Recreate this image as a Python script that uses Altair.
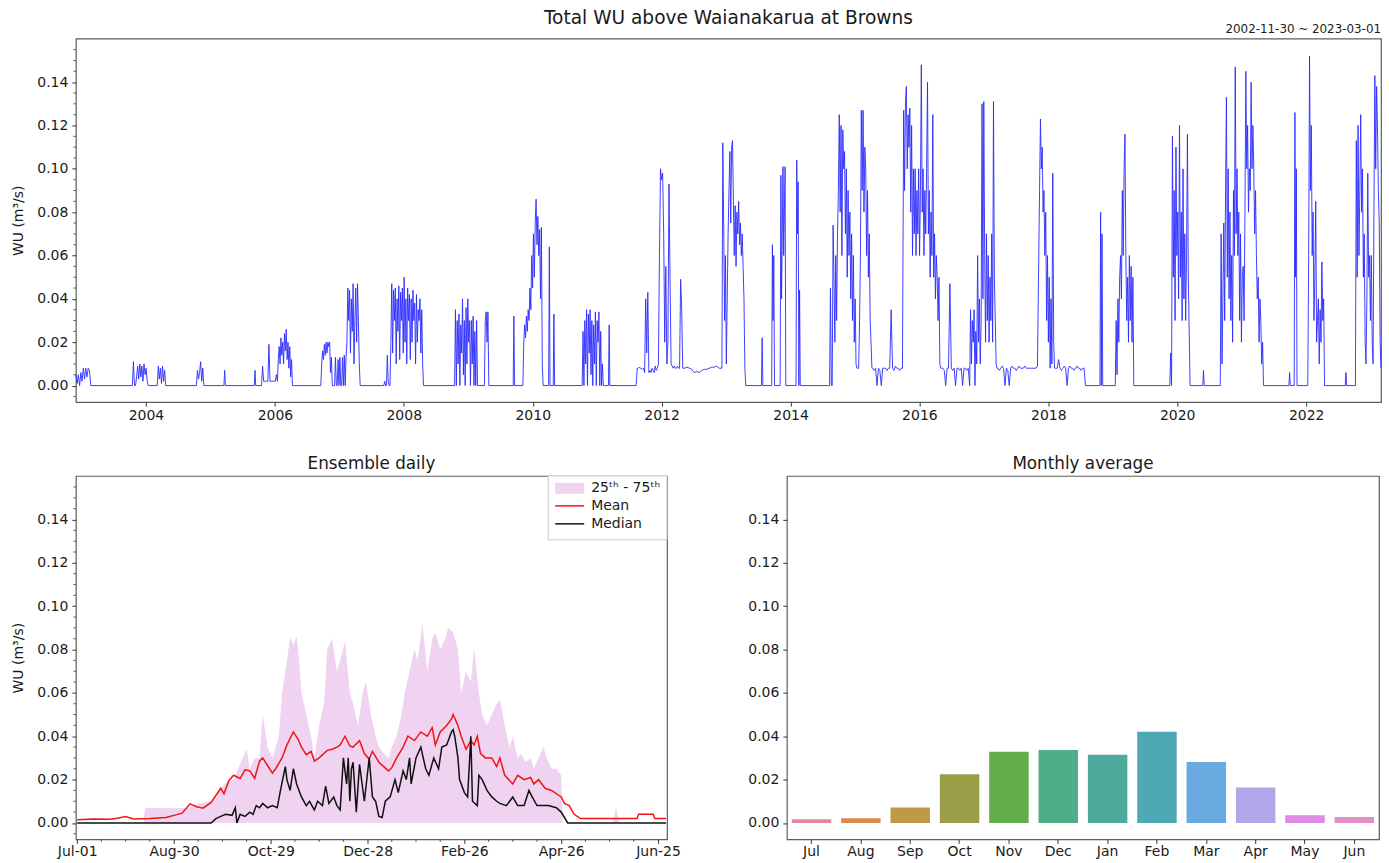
import altair as alt
import pandas as pd

FONT = "DejaVu Sans"
INK = "#1a1a1a"
FRAME = "#5e5e5e"

# ---------------------------------------------------------------------------
# Daily water use (m3/s), stored as runs of readings: (first date, days between
# readings, readings). Quiet periods sit between the runs.
# ---------------------------------------------------------------------------
segments = [
    ("2002-11-30", 7, [0.005, 0.001, 0.005, 0.0, 0.006, 0.002, 0.008, 0.003, 0.008, 0.004, 0.008, 0.007, 0.0]),
    ("2003-10-16", 6, [0.0, 0.011, 0.0, 0.0, 0.004, 0.009, 0.003, 0.010, 0.004, 0.009, 0.002, 0.010, 0.005, 0.008, 0.002, 0.0]),
    ("2004-03-05", 6, [0.0, 0.009, 0.003, 0.008, 0.001, 0.009, 0.002, 0.007, 0.0]),
    ("2004-10-13", 6, [0.0, 0.007, 0.003, 0.006, 0.011, 0.002, 0.008, 0.0]),
    ("2005-03-18", 4, [0.0, 0.007, 0.0]),
    ("2005-09-06", 4, [0.0, 0.007, 0.0]),
    ("2005-10-17", 6, [0.0, 0.009, 0.002, 0.002, 0.002, 0.002, 0.002, 0.019, 0.002, 0.002, 0.002, 0.002, 0.002, 0.002, 0.005]),
    ("2006-01-15", 5, [0.002, 0.012, 0.018, 0.010, 0.022, 0.014, 0.020, 0.010, 0.024, 0.016, 0.026, 0.012, 0.020, 0.008, 0.018, 0.004, 0.012, 0.0, 0.0]),
    ("2006-09-18", 5, [0.0, 0.010, 0.016, 0.012, 0.019, 0.014, 0.020, 0.015, 0.020, 0.018, 0.020, 0.006, 0.013, 0.0]),
    ("2006-12-05", 5, [0.0, 0.013, 0.0, 0.0, 0.012, 0.0, 0.013, 0.0, 0.0, 0.013, 0.0, 0.014, 0.0, 0.013, 0.02,
                       0.045, 0.03, 0.044, 0.015, 0.04, 0.025, 0.047, 0.01, 0.03, 0.045, 0.02, 0.047, 0.03, 0.01, 0.0]),
    ("2007-09-10", 5, [0.0, 0.002, 0.0, 0.0, 0.014, 0.002, 0.0, 0.0, 0.02, 0.047, 0.015, 0.044, 0.03, 0.045, 0.01,
                       0.04, 0.025, 0.046, 0.012, 0.043, 0.03, 0.045, 0.015, 0.05, 0.02, 0.04, 0.01, 0.045, 0.03,
                       0.042, 0.012, 0.04, 0.02, 0.044, 0.03, 0.038, 0.01, 0.042, 0.02, 0.035, 0.03, 0.04, 0.015,
                       0.035, 0.01, 0.0]),
    ("2008-10-15", 5, [0.0, 0.035, 0.0, 0.03, 0.01, 0.033, 0.0, 0.028, 0.015, 0.04, 0.005, 0.03, 0.0, 0.036, 0.01,
                       0.04, 0.02, 0.03, 0.0, 0.03, 0.01, 0.032, 0.0, 0.025, 0.0, 0.03, 0.0, 0.0]),
    ("2009-04-02", 5, [0.0, 0.03, 0.034, 0.02, 0.034, 0.0]),
    ("2009-09-12", 4, [0.0, 0.032, 0.0]),
    ("2009-11-06", 5, [0.0, 0.02, 0.028, 0.022, 0.032, 0.025, 0.035, 0.03, 0.045, 0.035, 0.06, 0.045, 0.07, 0.05,
                       0.075, 0.086, 0.065, 0.078, 0.06, 0.072, 0.04, 0.073, 0.01, 0.0]),
    ("2010-04-01", 4, [0.0, 0.064, 0.0]),
    ("2010-04-27", 4, [0.0, 0.033, 0.0]),
    ("2010-10-08", 5, [0.0, 0.025, 0.0, 0.03, 0.01, 0.035, 0.0, 0.033, 0.015, 0.035, 0.005, 0.03, 0.0, 0.028, 0.01,
                       0.034, 0.0, 0.03, 0.02, 0.034, 0.0, 0.025, 0.0, 0.01, 0.0]),
    ("2011-03-06", 4, [0.0, 0.028, 0.0]),
    ("2011-08-10", 6, [0.0, 0.008, 0.008, 0.0085, 0.008, 0.008, 0.0075, 0.008, 0.006, 0.04, 0.015, 0.043, 0.006,
                       0.007, 0.006, 0.008, 0.007, 0.006, 0.009, 0.007, 0.008, 0.01, 0.06, 0.1, 0.095, 0.098, 0.07,
                       0.02, 0.055, 0.01, 0.02, 0.093, 0.05, 0.01, 0.009, 0.008, 0.009, 0.008, 0.008, 0.009, 0.008,
                       0.008, 0.049, 0.035, 0.008]),
    ("2012-05-10", 14, [0.008, 0.0085, 0.008, 0.0075, 0.006, 0.0065, 0.006, 0.007, 0.0075, 0.0075, 0.008, 0.0085,
                        0.0085, 0.009, 0.008]),
    ("2012-12-08", 5, [0.008, 0.112, 0.075, 0.03, 0.06, 0.01, 0.04, 0.07, 0.09, 0.108, 0.075, 0.11, 0.113, 0.085,
                       0.06, 0.083, 0.055, 0.08, 0.07, 0.085, 0.065, 0.075, 0.06, 0.07, 0.055, 0.04, 0.008, 0.0]),
    ("2013-07-20", 4, [0.0, 0.022, 0.0]),
    ("2013-09-16", 4, [0.0, 0.065, 0.03, 0.06, 0.0]),
    ("2013-11-03", 4, [0.0, 0.097, 0.04, 0.07, 0.101, 0.06, 0.08, 0.101, 0.0]),
    ("2014-02-01", 4, [0.0, 0.104, 0.07, 0.094, 0.0, 0.044, 0.0]),
    ("2014-08-10", 5, [0.0, 0.045, 0.0, 0.0, 0.074, 0.05, 0.02, 0.06, 0.03, 0.07, 0.09, 0.125, 0.08, 0.12, 0.06,
                       0.118, 0.1, 0.108, 0.07, 0.1, 0.05, 0.09, 0.06, 0.08, 0.04, 0.07, 0.03, 0.06, 0.02, 0.04,
                       0.01, 0.008, 0.008, 0.008, 0.03, 0.06, 0.127, 0.09, 0.127, 0.08, 0.11, 0.1, 0.06, 0.09,
                       0.05, 0.07, 0.03, 0.02, 0.008]),
    ("2015-04-12", 8, [0.008, 0.007, 0.008, 0.0, 0.008, 0.007, 0.0, 0.008, 0.008, 0.008, 0.007, 0.008, 0.008,
                       0.035, 0.008, 0.007, 0.009, 0.008, 0.008, 0.007, 0.008, 0.008]),
    ("2015-10-04", 5, [0.127, 0.09, 0.13, 0.138, 0.1, 0.125, 0.11, 0.128, 0.08, 0.12, 0.06, 0.1, 0.07, 0.1, 0.06,
                       0.09, 0.07, 0.1, 0.06, 0.09, 0.148, 0.08, 0.1, 0.06, 0.09, 0.07, 0.1, 0.14, 0.07, 0.09,
                       0.05, 0.08, 0.06, 0.125, 0.05, 0.07, 0.04, 0.06, 0.05, 0.03, 0.05, 0.01, 0.008, 0.008]),
    ("2016-05-13", 8, [0.008, 0.007, 0.0, 0.008, 0.008, 0.047, 0.008, 0.007, 0.008, 0.0, 0.008, 0.008, 0.007,
                       0.008, 0.0, 0.008, 0.008, 0.007, 0.008, 0.0]),
    ("2016-10-17", 5, [0.035, 0.01, 0.03, 0.02, 0.035, 0.0, 0.025, 0.01, 0.06, 0.02, 0.04, 0.01, 0.03, 0.13, 0.04,
                       0.131, 0.06, 0.02, 0.07, 0.03, 0.06, 0.02, 0.05, 0.03, 0.07, 0.02, 0.131, 0.05, 0.03, 0.01,
                       0.008]),
    ("2017-03-21", 8, [0.008, 0.007, 0.008, 0.009, 0.008, 0.0, 0.008, 0.007, 0.0, 0.008, 0.009, 0.008, 0.008,
                       0.007, 0.008, 0.009, 0.008, 0.008, 0.008, 0.009, 0.008, 0.008, 0.008, 0.008, 0.008, 0.008,
                       0.008, 0.008, 0.009]),
    ("2017-11-12", 5, [0.09, 0.123, 0.1, 0.11, 0.08, 0.09, 0.06, 0.08, 0.03, 0.06, 0.02, 0.05, 0.008, 0.04, 0.01,
                       0.098, 0.02, 0.008, 0.008]),
    ("2018-02-20", 8, [0.008, 0.012, 0.008, 0.007, 0.008, 0.009, 0.008, 0.0, 0.008, 0.009, 0.008, 0.008, 0.007,
                       0.008, 0.009, 0.008, 0.008, 0.007, 0.008, 0.008, 0.0]),
    ("2018-10-20", 4, [0.0, 0.08, 0.0, 0.07, 0.0]),
    ("2019-01-15", 5, [0.0, 0.03, 0.005, 0.04, 0.02, 0.05, 0.06, 0.04, 0.09, 0.06, 0.1, 0.116, 0.06, 0.03, 0.05,
                       0.02, 0.06, 0.03, 0.055, 0.02, 0.05, 0.0]),
    ("2019-11-20", 5, [0.0, 0.015, 0.0, 0.115, 0.05, 0.09, 0.03, 0.11, 0.06, 0.08, 0.04, 0.12, 0.05, 0.08, 0.03,
                       0.1, 0.04, 0.07, 0.03, 0.06, 0.116, 0.05, 0.025, 0.0]),
    ("2020-05-25", 4, [0.0, 0.007, 0.0]),
    ("2020-09-01", 5, [0.0, 0.07, 0.01, 0.04, 0.075, 0.03, 0.09, 0.133, 0.05, 0.1, 0.04, 0.08, 0.03, 0.06, 0.02,
                       0.09, 0.06, 0.147, 0.07, 0.1, 0.06, 0.08, 0.03, 0.07, 0.02, 0.05, 0.055, 0.03, 0.08, 0.145,
                       0.1, 0.12, 0.08, 0.1, 0.09, 0.14, 0.1, 0.12, 0.1, 0.07, 0.09, 0.06, 0.04, 0.05, 0.02, 0.04,
                       0.03, 0.01, 0.02, 0.0]),
    ("2021-09-25", 4, [0.0, 0.006, 0.0]),
    ("2021-10-25", 4, [0.0, 0.126, 0.05, 0.1, 0.0]),
    ("2022-01-10", 5, [0.0, 0.06, 0.152, 0.09, 0.12, 0.06, 0.08, 0.03, 0.05, 0.085, 0.02, 0.03, 0.04, 0.01, 0.035,
                       0.02, 0.057, 0.03, 0.04, 0.0]),
    ("2022-08-10", 4, [0.0, 0.006, 0.0]),
    ("2022-10-07", 5, [0.0, 0.113, 0.05, 0.12, 0.06, 0.09, 0.125, 0.08, 0.1, 0.05, 0.07, 0.02, 0.01, 0.04, 0.098,
                       0.05, 0.06, 0.03, 0.06, 0.02, 0.01, 0.08, 0.143, 0.1, 0.138, 0.12, 0.09, 0.075, 0.02, 0.008]),
]

# Ensemble over the water year (day 0 = 1 July): (day, value) readings
mean_pts = [
    (0, 0.0015), (10, 0.0018), (20, 0.0017), (25, 0.0022), (30, 0.003), (35, 0.0018), (45, 0.002),
    (55, 0.0025), (60, 0.0035), (65, 0.0045), (70, 0.0088), (74, 0.0075), (78, 0.0068), (83, 0.0095),
    (89, 0.016), (91, 0.0135), (94, 0.0195), (97, 0.022), (101, 0.0205), (104, 0.0245), (107, 0.024),
    (110, 0.0205), (113, 0.0285), (115, 0.030), (118, 0.0265), (121, 0.023), (123, 0.025), (127, 0.030),
    (130, 0.036), (134, 0.042), (137, 0.0385), (139, 0.035), (142, 0.0315), (145, 0.033), (147, 0.0285),
    (150, 0.030), (155, 0.0335), (158, 0.034), (161, 0.035), (163, 0.036), (166, 0.040), (169, 0.0355),
    (171, 0.035), (175, 0.038), (178, 0.032), (181, 0.0295), (183, 0.033), (187, 0.028), (190, 0.026),
    (193, 0.024), (195, 0.0255), (198, 0.030), (202, 0.035), (205, 0.040), (209, 0.038), (213, 0.042),
    (217, 0.040), (220, 0.044), (222, 0.036), (225, 0.042), (229, 0.045), (232, 0.048), (233, 0.050),
    (236, 0.045), (238, 0.040), (241, 0.034), (244, 0.038), (246, 0.036), (248, 0.040), (250, 0.032),
    (253, 0.030), (257, 0.030), (260, 0.026), (262, 0.030), (265, 0.022), (270, 0.018), (273, 0.022),
    (277, 0.020), (281, 0.021), (283, 0.018), (286, 0.020), (290, 0.016), (294, 0.015), (300, 0.012),
    (302, 0.009), (305, 0.008), (308, 0.004), (312, 0.002), (330, 0.002), (347, 0.002), (348, 0.004),
    (357, 0.004), (358, 0.002), (365, 0.002),
]
median_pts = [
    (0, 0.0), (83, 0.0), (86, 0.002), (89, 0.003), (92, 0.004), (96, 0.0035), (98, 0.007), (99, 0.0),
    (101, 0.004), (104, 0.003), (107, 0.005), (109, 0.004), (111, 0.008), (113, 0.007), (115, 0.009),
    (118, 0.007), (121, 0.008), (124, 0.007), (126, 0.015), (129, 0.026), (130, 0.02), (132, 0.015),
    (134, 0.025), (136, 0.018), (139, 0.012), (142, 0.008), (144, 0.01), (147, 0.006), (149, 0.01),
    (152, 0.008), (154, 0.017), (156, 0.009), (159, 0.012), (161, 0.008), (163, 0.006), (165, 0.03),
    (167, 0.018), (168, 0.03), (169, 0.01), (170, 0.025), (171, 0.028), (173, 0.005), (175, 0.027),
    (178, 0.01), (181, 0.03), (183, 0.012), (185, 0.01), (187, 0.003), (189, 0.0025), (191, 0.01),
    (194, 0.012), (197, 0.02), (199, 0.014), (202, 0.024), (204, 0.02), (206, 0.03), (207, 0.018),
    (210, 0.03), (213, 0.035), (216, 0.025), (218, 0.022), (221, 0.03), (224, 0.025), (226, 0.035),
    (229, 0.036), (232, 0.042), (233, 0.043), (234, 0.04), (236, 0.03), (237, 0.02), (240, 0.014),
    (242, 0.012), (244, 0.04), (245, 0.01), (248, 0.008), (249, 0.022), (251, 0.02), (254, 0.015),
    (257, 0.012), (260, 0.01), (262, 0.009), (266, 0.008), (270, 0.012), (273, 0.008), (277, 0.008),
    (280, 0.015), (282, 0.012), (285, 0.008), (292, 0.008), (297, 0.007), (300, 0.005), (304, 0.0),
    (365, 0.0),
]
q75_pts = [
    (0, 0.0), (41, 0.0), (42, 0.007), (55, 0.0068), (70, 0.007), (75, 0.009), (83, 0.01), (86, 0.012),
    (91, 0.018), (97, 0.02), (102, 0.029), (105, 0.034), (107, 0.025), (110, 0.03), (113, 0.03),
    (115, 0.05), (118, 0.035), (121, 0.03), (125, 0.04), (127, 0.06), (130, 0.075), (132, 0.086),
    (134, 0.082), (136, 0.086), (137, 0.08), (139, 0.06), (142, 0.05), (145, 0.04), (147, 0.03),
    (150, 0.045), (153, 0.055), (155, 0.08), (158, 0.085), (161, 0.07), (163, 0.075), (166, 0.084),
    (169, 0.06), (171, 0.055), (174, 0.045), (177, 0.06), (179, 0.065), (182, 0.05), (185, 0.04),
    (187, 0.035), (190, 0.032), (193, 0.03), (195, 0.035), (198, 0.04), (201, 0.05), (203, 0.06),
    (206, 0.07), (209, 0.08), (211, 0.075), (214, 0.092), (217, 0.07), (220, 0.085), (222, 0.088),
    (225, 0.08), (228, 0.085), (230, 0.09), (233, 0.088), (236, 0.08), (238, 0.06), (241, 0.07),
    (244, 0.065), (246, 0.081), (249, 0.06), (251, 0.05), (254, 0.045), (257, 0.05), (260, 0.055),
    (262, 0.057), (265, 0.045), (268, 0.035), (270, 0.04), (273, 0.03), (275, 0.032), (278, 0.028),
    (281, 0.03), (283, 0.025), (286, 0.03), (289, 0.035), (291, 0.03), (294, 0.025), (297, 0.025),
    (300, 0.022), (301, 0.0), (332, 0.0), (334, 0.007), (336, 0.0), (365, 0.0),
]
q25_level = 0.0  # lower quartile stays at zero through the year

day_ticks = [0, 60, 120, 180, 240, 300, 360]
day_labels = ["Jul-01", "Aug-30", "Oct-29", "Dec-28", "Feb-26", "Apr-26", "Jun-25"]

months = ["Jul", "Aug", "Sep", "Oct", "Nov", "Dec", "Jan", "Feb", "Mar", "Apr", "May", "Jun"]
monthly_wu = [0.0017, 0.0022, 0.0071, 0.0225, 0.0328, 0.0337, 0.0315, 0.0421, 0.0281, 0.0163, 0.0036, 0.0027]
month_colors = ["#e0899a", "#dc8a4c", "#bf9a45", "#9a9e47", "#62ad4c", "#4eae87",
                "#4faa9e", "#4ea8b6", "#69abe0", "#b2a5e8", "#de8be6", "#e48ec6"]

y_major = [0.0, 0.02, 0.04, 0.06, 0.08, 0.10, 0.12, 0.14]
y_minor = [-0.005, 0.005, 0.01, 0.015, 0.025, 0.03, 0.035, 0.045, 0.05, 0.055, 0.065, 0.07, 0.075,
           0.085, 0.09, 0.095, 0.105, 0.11, 0.115, 0.125, 0.13, 0.135, 0.145, 0.15, 0.155]
day_minor = [15, 30, 45, 75, 90, 105, 135, 150, 165, 195, 210, 225, 255, 270, 285, 315, 330, 345]

# ---------------------------------------------------------------------------
rows = []
for start, step, vals in segments:
    t0 = pd.Timestamp(start)
    for k, v in enumerate(vals):
        rows.append({"date": (t0 + pd.Timedelta(days=step * k)).strftime("%Y-%m-%d"), "wu": v})
daily = pd.DataFrame(rows)

mean_df = pd.DataFrame(mean_pts, columns=["day", "wu"])
median_df = pd.DataFrame(median_pts, columns=["day", "wu"])
band_df = pd.DataFrame(q75_pts, columns=["day", "q75"])
band_df["q25"] = q25_level
bars_df = pd.DataFrame({"month": months, "wu": monthly_wu})

W_TOP, W_BL, W_BR, H = 1307, 592, 593, 364
YDOM = [-0.0076, 0.1601]
yscale = alt.Scale(domain=YDOM, nice=False, zero=False)
WU_TITLE = "WU (m³/s)"
LABEL_SIZE = 14


def y_axis(title=None):
    kw = dict(values=y_major, format=".2f", tickSize=4, labelPadding=4)
    if title:
        kw.update(title=title, titlePadding=11)
    else:
        kw.update(title=None)
    return alt.Axis(**kw)


def y_minor_ticks(title):
    # short unlabelled ticks between the labelled ones; shares the axis of the main layer
    return alt.Chart(pd.DataFrame({"v": y_minor})).mark_rule(color="#333333", strokeWidth=0.8).encode(
        y=alt.Y("v:Q", scale=yscale, axis=y_axis(title)), x=alt.value(-2.5), x2=alt.value(0))


def one_row():
    return pd.DataFrame({"k": [0]})


# ---- top: full record ----
t_start = alt.DateTime(year=2002, month=11, date=30, utc=True)
t_end = alt.DateTime(year=2023, month=3, date=1, utc=True)
year_ticks = [alt.DateTime(year=y, month=1, date=1, utc=True) for y in range(2004, 2023, 2)]

record = alt.Chart(daily).mark_line(color="#2a2aff", strokeWidth=1.0, opacity=0.9).encode(
    x=alt.X("date:T", scale=alt.Scale(type="utc", domain=[t_start, t_end], nice=False),
            axis=alt.Axis(values=year_ticks, format="%Y", title=None, tickSize=4, labelPadding=2)),
    y=alt.Y("wu:Q", scale=yscale, axis=y_axis(WU_TITLE)),
)
main_title = alt.Chart(one_row()).mark_text(font=FONT, fontSize=18.6, color=INK, align="center",
                                             baseline="middle").encode(
    x=alt.value(W_TOP / 2), y=alt.value(-21),
    text=alt.value("Total WU above Waianakarua at Browns"))
period = alt.Chart(one_row()).mark_text(font=FONT, fontSize=11.9, color=INK, align="right",
                                         baseline="middle").encode(
    x=alt.value(W_TOP), y=alt.value(-10), text=alt.value("2002-11-30 ~ 2023-03-01"))

top = alt.layer(record, y_minor_ticks(WU_TITLE), main_title, period).properties(width=W_TOP, height=H)

# ---- bottom left: ensemble daily ----
BAND = "#f0d3f1"
xday = alt.Scale(domain=[-0.8, 365.6], nice=False, zero=False)
day_axis = alt.Axis(values=day_ticks, title=None, tickSize=4, labelPadding=1, labelFlush=False,
                    labelOverlap=False,
                    labelExpr="['Jul-01','Aug-30','Oct-29','Dec-28','Feb-26','Apr-26','Jun-25'][round(datum.value/60)]")

band = alt.Chart(band_df).mark_area(color=BAND, opacity=1).encode(
    x=alt.X("day:Q", scale=xday, axis=day_axis),
    y=alt.Y("q75:Q", scale=yscale, axis=y_axis(WU_TITLE)),
    y2="q25:Q",
)
mean_line = alt.Chart(mean_df).mark_line(color="#f01515", strokeWidth=1.5).encode(
    x=alt.X("day:Q", scale=xday, axis=day_axis), y=alt.Y("wu:Q", scale=yscale, axis=y_axis(WU_TITLE)))
median_line = alt.Chart(median_df).mark_line(color="#111111", strokeWidth=1.5).encode(
    x=alt.X("day:Q", scale=xday, axis=day_axis), y=alt.Y("wu:Q", scale=yscale, axis=y_axis(WU_TITLE)))
x_minor = alt.Chart(pd.DataFrame({"d": day_minor})).mark_rule(color="#333333", strokeWidth=0.8).encode(
    x=alt.X("d:Q", scale=xday, axis=day_axis), y=alt.value(H), y2=alt.value(H + 2.5))

# legend block in the upper right corner
LX0 = W_BL - 119
leg_box = alt.Chart(one_row()).mark_rect(fill="white", stroke="#cccccc", strokeWidth=1).encode(
    x=alt.value(LX0), x2=alt.value(W_BL), y=alt.value(0), y2=alt.value(64))
leg_patch = alt.Chart(one_row()).mark_rect(fill=BAND).encode(
    x=alt.value(LX0 + 7), x2=alt.value(LX0 + 36), y=alt.value(7), y2=alt.value(18))
leg_mean = alt.Chart(one_row()).mark_rule(color="#f01515", strokeWidth=1.5).encode(
    x=alt.value(LX0 + 7), x2=alt.value(LX0 + 36), y=alt.value(30))
leg_median = alt.Chart(one_row()).mark_rule(color="#111111", strokeWidth=1.5).encode(
    x=alt.value(LX0 + 7), x2=alt.value(LX0 + 36), y=alt.value(48))
leg_text = alt.Chart(pd.DataFrame({"label": ["25ᵗʰ - 75ᵗʰ", "Mean", "Median"],
                                   "py": [12.5, 30, 48]})).mark_text(
    font=FONT, fontSize=14, color=INK, align="left", baseline="middle").encode(
    x=alt.value(LX0 + 43), y=alt.Y("py:Q", scale=None), text="label:N")

ensemble = alt.layer(band, mean_line, median_line, y_minor_ticks(WU_TITLE), x_minor,
                     leg_box, leg_patch, leg_mean, leg_median, leg_text).properties(
    width=W_BL, height=H, title="Ensemble daily")

# ---- bottom right: monthly averages ----
monthly = alt.Chart(bars_df).mark_bar().encode(
    x=alt.X("month:N", sort=months, scale=alt.Scale(paddingInner=0.2, paddingOuter=0.1),
            axis=alt.Axis(title=None, labelAngle=0, tickSize=4, labelPadding=1)),
    y=alt.Y("wu:Q", scale=yscale, axis=y_axis()),
    color=alt.Color("month:N", sort=months, scale=alt.Scale(domain=months, range=month_colors), legend=None),
).properties(width=W_BR, height=H, title="Monthly average")

chart = alt.vconcat(
    top,
    alt.hconcat(ensemble, monthly, spacing=66),
    spacing=32,
).configure(
    padding={"left": 11, "top": 7, "right": 5, "bottom": 2},
    font=FONT,
).configure_view(
    stroke=FRAME, strokeWidth=1.2,
).configure_axis(
    domain=False, grid=False, labelFont=FONT, labelFontSize=LABEL_SIZE, labelColor=INK,
    tickColor="#333333", tickWidth=1, titleFont=FONT, titleFontSize=14,
    titleFontWeight="normal", titleColor=INK,
).configure_title(
    font=FONT, fontSize=16.8, fontWeight="normal", color=INK, offset=3, anchor="middle",
)

chart.save("out.html", embed_options={"renderer": "svg", "actions": False})
